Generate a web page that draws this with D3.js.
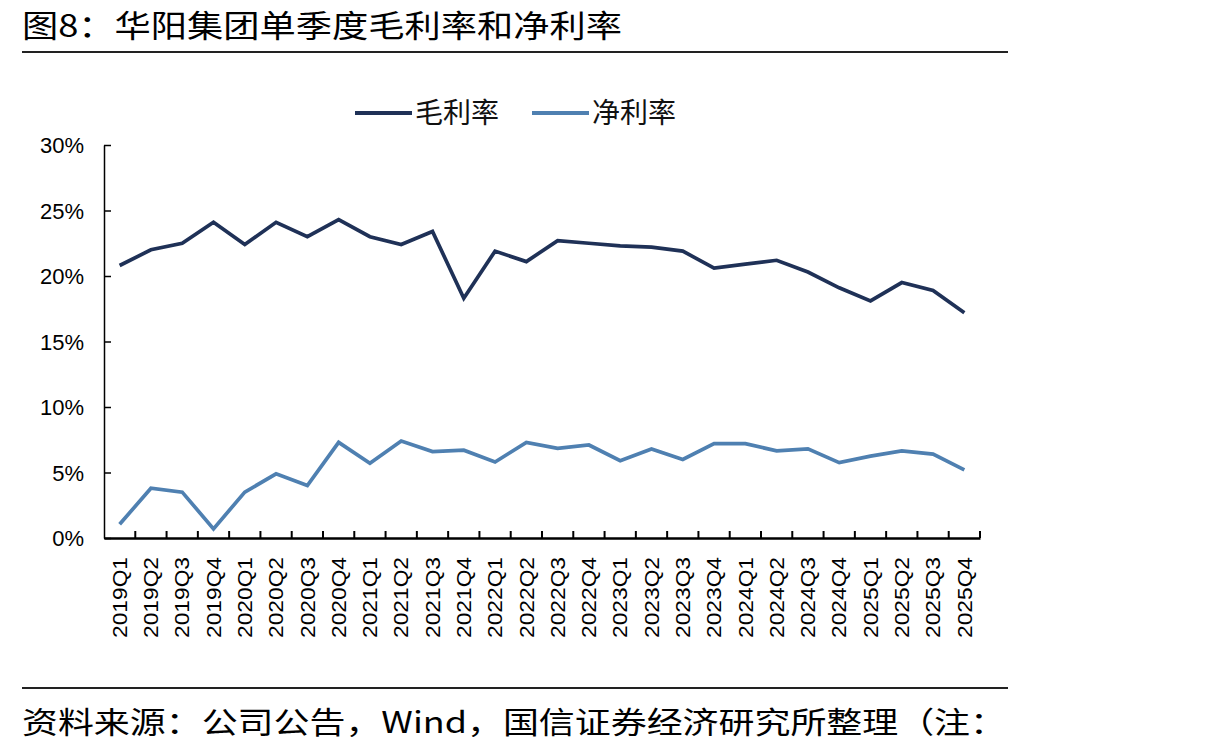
<!DOCTYPE html>
<html><head><meta charset="utf-8">
<script src="https://cdn.jsdelivr.net/npm/d3@7"></script>
<style>body{margin:0;background:#fff;} svg{display:block;}</style>
</head><body>
<svg id="c" width="1222" height="755"></svg>
<script>
const categories = ["2019Q1","2019Q2","2019Q3","2019Q4","2020Q1","2020Q2","2020Q3","2020Q4","2021Q1","2021Q2","2021Q3","2021Q4","2022Q1","2022Q2","2022Q3","2022Q4","2023Q1","2023Q2","2023Q3","2023Q4","2024Q1","2024Q2","2024Q3","2024Q4","2025Q1","2025Q2","2025Q3","2025Q4"];
const grossMargin = [20.8,22.0,22.5,24.1,22.4,24.1,23.0,24.3,23.0,22.4,23.4,18.3,21.9,21.1,22.7,22.5,22.3,22.2,21.9,20.6,20.9,21.2,20.3,19.1,18.1,19.5,18.9,17.2];
const netMargin = [1.05,3.8,3.5,0.7,3.5,4.9,4.0,7.3,5.7,7.4,6.6,6.7,5.8,7.3,6.85,7.1,5.9,6.8,6.0,7.2,7.2,6.65,6.8,5.75,6.25,6.65,6.4,5.2];
const yTicks = [0,5,10,15,20,25,30];
const seriesNames = ["毛利率","净利率"];
const titleText = "图8：华阳集团单季度毛利率和净利率";
const sourceText = "资料来源：公司公告，Wind，国信证券经济研究所整理（注：";

const colors = ["#1f3157","#4f80b1"];
const svg = d3.select("#c");
const L = 104, R = 980, T = 145, B = 538;
const x = d3.scaleBand().domain(categories).range([L, R]);
const y = d3.scaleLinear().domain([0, 30]).range([B, T]);
const cjk = "'Noto Sans CJK SC', sans-serif";

// title
svg.append("text").attr("x", 22).attr("y", 37).attr("font-family", cjk).attr("font-size", 31)
  .attr("fill", "#000").attr("textLength", 600).attr("lengthAdjust", "spacingAndGlyphs").text(titleText);
svg.append("line").attr("x1", 22).attr("x2", 1008).attr("y1", 52).attr("y2", 52).attr("stroke", "#222").attr("stroke-width", 2);
svg.append("line").attr("x1", 22).attr("x2", 1008).attr("y1", 688).attr("y2", 688).attr("stroke", "#222").attr("stroke-width", 2);
svg.append("text").attr("x", 22).attr("y", 733).attr("font-family", cjk).attr("font-size", 30)
  .attr("fill", "#000").attr("textLength", 984).attr("lengthAdjust", "spacingAndGlyphs").text(sourceText);

// y axis
const yAxis = d3.axisLeft(y).tickValues(yTicks).tickFormat(d => d + "%").tickSizeInner(-7).tickSizeOuter(0).tickPadding(20);
const gy = svg.append("g").attr("transform", `translate(${L},0)`).call(yAxis);
gy.select(".domain").attr("stroke", "#000").attr("stroke-width", 1.5);
gy.selectAll(".tick line").attr("stroke", "#000").attr("stroke-width", 1.5);
gy.selectAll(".tick text").attr("font-family", "'Liberation Sans', Arial, sans-serif").attr("font-size", 22).attr("fill", "#000").attr("dy", "0.35em");

// x axis
const xAxis = d3.axisBottom(x).tickSize(0).tickSizeOuter(0);
const gx = svg.append("g").attr("transform", `translate(0,${B})`).call(xAxis);
gx.select(".domain").attr("stroke", "#000").attr("stroke-width", 2.5);
gx.selectAll(".tick text").attr("font-family", "'Liberation Sans', Arial, sans-serif").attr("font-size", 20).attr("fill", "#000")
  .attr("transform", "rotate(-90)").attr("text-anchor", "end").attr("x", -19).attr("y", 0).attr("dy", "0.36em")
  .attr("textLength", 81).attr("lengthAdjust", "spacingAndGlyphs");
// boundary ticks (between categories, pointing up)
const bounds = categories.map(c => x(c)).concat([R]).slice(1);
gx.selectAll(".btick").data(bounds).enter().append("line").attr("class", "btick")
  .attr("x1", d => d).attr("x2", d => d).attr("y1", 0).attr("y2", -7).attr("stroke", "#000").attr("stroke-width", 2);

// lines
const line = d3.line().x((d, i) => x(categories[i]) + x.bandwidth() / 2).y(d => y(d));
[grossMargin, netMargin].forEach((s, k) => {
  svg.append("path").datum(s).attr("d", line).attr("fill", "none").attr("stroke", colors[k])
    .attr("stroke-width", 3.7).attr("stroke-linejoin", "miter");
});

// legend
const legX = [355, 532];
seriesNames.forEach((n, k) => {
  svg.append("line").attr("x1", legX[k]).attr("x2", legX[k] + 57).attr("y1", 113).attr("y2", 113)
    .attr("stroke", colors[k]).attr("stroke-width", 4);
  svg.append("text").attr("x", legX[k] + 60).attr("y", 123).attr("font-family", cjk).attr("font-size", 28)
    .attr("fill", "#111").text(n);
});
</script>
</body></html>
